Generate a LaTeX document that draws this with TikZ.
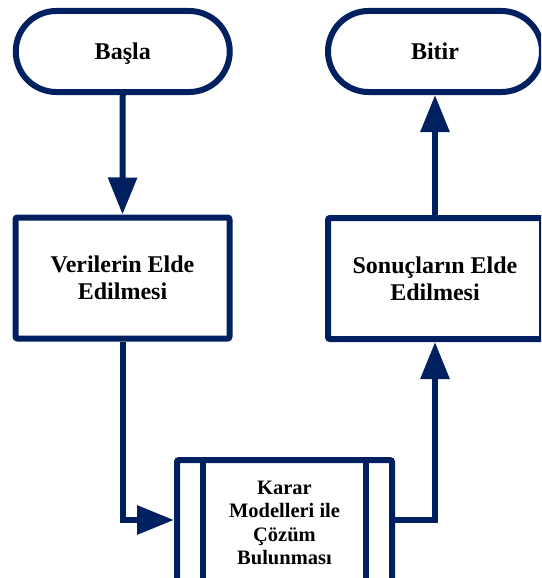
\documentclass[tikz,border=0pt]{standalone}
\usepackage{fontspec}
\setmainfont{Liberation Serif}
\usetikzlibrary{arrows.meta,calc}
\definecolor{navy}{RGB}{0,32,96}
\begin{document}
\begin{tikzpicture}[x=1pt,y=-1pt,
  box/.style={draw=navy,line width=6pt,fill=white,rounded corners=2pt,
    minimum width=214pt,minimum height=121pt,inner sep=0pt,align=center,
    font=\fontsize{24}{27}\selectfont\bfseries},
  term/.style={box,rounded corners=40.5pt,minimum height=81pt,text depth=0pt},
  conn/.style={draw=navy,line width=6pt},
  tip/.style={-{Triangle[length=37pt,width=28pt]}},
  smalltext/.style={align=center,inner sep=0pt,font=\fontsize{20.5}{23.3}\selectfont\bfseries}
]
\useasboundingbox (0,0) rectangle (541,578);
\clip (0,0) rectangle (541,578);

\node[term] (basla) at (122.75,51.5) {Başla};
\node[term] (bitir) at (435,51.5) {Bitir};
\node[box] (ver) at (122.5,278) {Verilerin Elde\\Edilmesi};
\node[box] (son) at (435,278.5) {Sonuçların Elde\\Edilmesi};
\node[box,minimum width=215pt,minimum height=300pt] (karar) at (284.5,610) {};
\draw[conn] ($(karar.north west)+(29,0)$) -- ($(karar.south west)+(29,0)$);
\draw[conn] ($(karar.north east)+(-29,0)$) -- ($(karar.south east)+(-29,0)$);
\node[smalltext] (kt) at (284.5,523) {Karar\\Modelleri ile\\Çözüm\\Bulunması};

\coordinate (jl) at (122.5,520);
\draw[conn,tip] (basla.south) -- (ver.north);
\draw[conn,tip] (son.north) -- (bitir.south);
\draw[conn,tip] (ver.south) |- (karar.west |- jl);
\draw[conn,tip] (karar.east |- jl) -| (son.south);
\end{tikzpicture}
\end{document}
